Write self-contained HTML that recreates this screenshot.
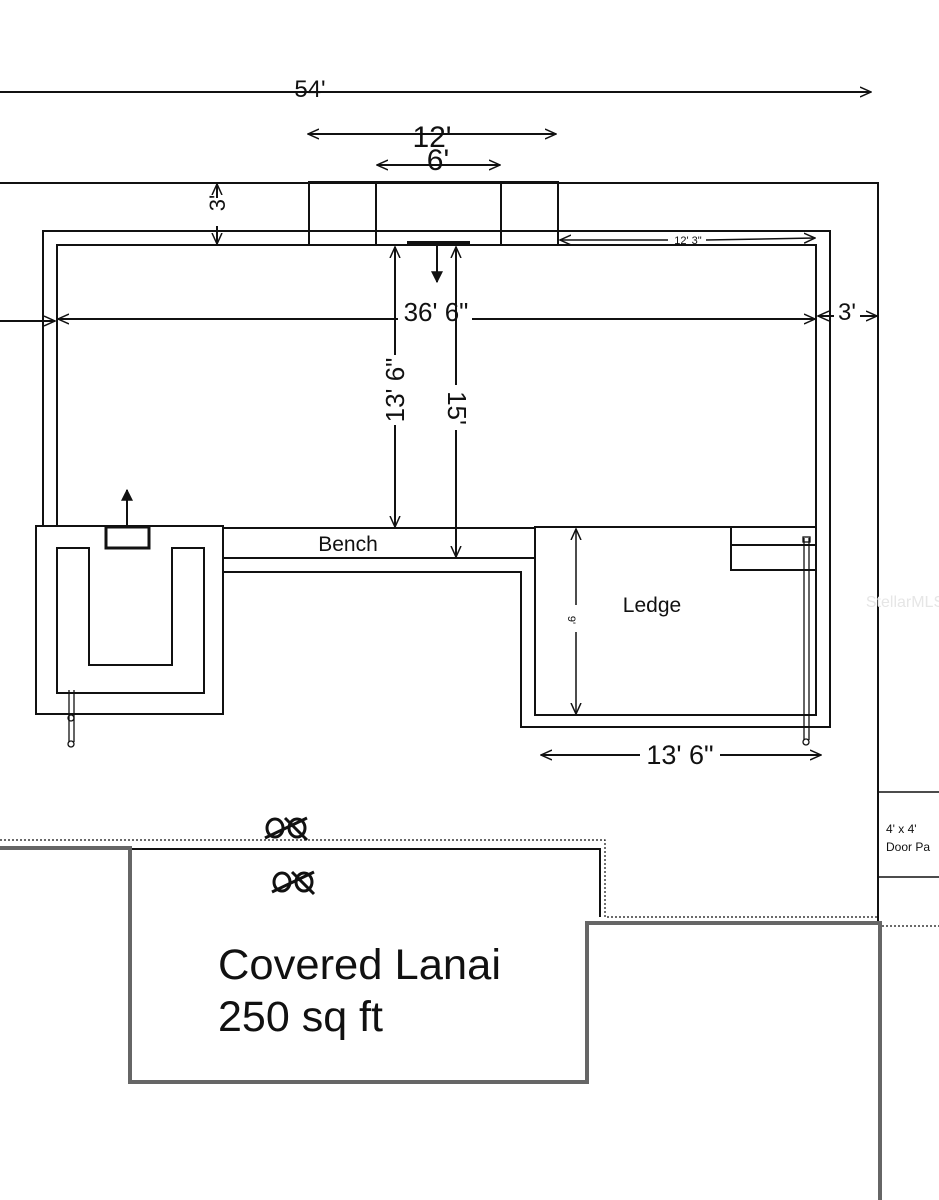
<!DOCTYPE html>
<html><head><meta charset="utf-8"><style>html,body{margin:0;padding:0;background:#fff}svg{display:block}</style></head>
<body>
<svg width="939" height="1200" viewBox="0 0 939 1200" xmlns="http://www.w3.org/2000/svg" font-family="Liberation Sans, sans-serif">
<defs>
<marker id="a" viewBox="0 0 12 12" refX="11" refY="6" markerWidth="12" markerHeight="12" orient="auto-start-reverse" markerUnits="userSpaceOnUse"><path d="M0,1 L11,6 L0,11" fill="none" stroke="#111" stroke-width="1.5"/></marker>
<marker id="f" viewBox="0 0 10 10" refX="9" refY="5" markerWidth="12" markerHeight="12" orient="auto" markerUnits="userSpaceOnUse"><path d="M0,0 L10,5 L0,10z" fill="#111"/></marker>
</defs>
<g stroke="#111" stroke-width="2" fill="none">
<line x1="0" y1="92" x2="871" y2="92" marker-end="url(#a)"/>
<line x1="308" y1="134" x2="556" y2="134" marker-start="url(#a)" marker-end="url(#a)"/>
<line x1="377" y1="165" x2="500" y2="165" marker-start="url(#a)" marker-end="url(#a)"/>
<polyline points="0,183 878,183 878,923"/>
<rect x="309" y="182" width="249" height="63"/>
<line x1="376" y1="182" x2="376" y2="245"/>
<line x1="501" y1="182" x2="501" y2="245"/>
<polyline points="43,525 43,231 830,231 830,727 521,727 521,572 223,572"/>
<polyline points="57,525 57,245 816,245 816,715"/>
<rect x="36" y="526" width="187" height="188"/>
<polyline points="223,528 535,528"/>
<line x1="223" y1="558" x2="535" y2="558"/>
<path d="M57,548 H89 V665 H172 V548 H204 V693 H57 Z"/>
<rect x="106" y="527" width="43" height="21" stroke-width="3"/>
<line x1="127" y1="527" x2="127" y2="490" marker-end="url(#f)"/>
<rect x="535" y="527" width="281" height="188"/>
<rect x="731" y="527" width="85" height="43"/>
<line x1="731" y1="545" x2="816" y2="545"/>
<line x1="407" y1="243" x2="470" y2="243" stroke-width="4"/>
<line x1="437" y1="243" x2="437" y2="282" marker-end="url(#f)"/>
<line x1="0" y1="321" x2="55" y2="321" marker-end="url(#a)"/>
<line x1="58" y1="319" x2="398" y2="319" marker-start="url(#a)"/>
<line x1="472" y1="319" x2="815" y2="319" marker-end="url(#a)"/>
<line x1="818" y1="316" x2="834" y2="316" marker-start="url(#a)"/>
<line x1="860" y1="316" x2="877" y2="316" marker-end="url(#a)"/>
<line x1="395" y1="247" x2="395" y2="355" marker-start="url(#a)"/>
<line x1="395" y1="425" x2="395" y2="527" marker-end="url(#a)"/>
<line x1="456" y1="247" x2="456" y2="385" marker-start="url(#a)"/>
<line x1="456" y1="430" x2="456" y2="557" marker-end="url(#a)"/>
<line x1="217" y1="184" x2="217" y2="198" marker-start="url(#a)"/>
<line x1="217" y1="226" x2="217" y2="244" marker-end="url(#a)"/>
<line x1="560" y1="240" x2="668" y2="240" marker-start="url(#a)" stroke-width="1.5"/>
<line x1="706" y1="240" x2="815" y2="238" marker-end="url(#a)" stroke-width="1.5"/>
<line x1="576" y1="529" x2="576" y2="605" marker-start="url(#a)" stroke-width="1.5"/>
<line x1="576" y1="632" x2="576" y2="714" marker-end="url(#a)" stroke-width="1.5"/>
<line x1="541" y1="755" x2="640" y2="755" marker-start="url(#a)"/>
<line x1="720" y1="755" x2="821" y2="755" marker-end="url(#a)"/>
<g stroke-width="1.3">
<line x1="804" y1="538" x2="804" y2="740"/><line x1="809" y1="538" x2="809" y2="740"/>
<rect x="803" y="537" width="7" height="5"/><circle cx="806" cy="742" r="3"/>
<line x1="69" y1="690" x2="69" y2="742"/><line x1="74" y1="690" x2="74" y2="742"/>
<circle cx="71" cy="744" r="3"/><circle cx="71" cy="718" r="3"/>
</g>
<polyline points="939,792 878,792 878,877 939,877" stroke-width="1.5"/>
<polyline points="0,840 605,840 605,917 878,917" stroke-dasharray="2,2" stroke-width="1.2"/>
<line x1="878" y1="926" x2="939" y2="926" stroke-dasharray="2,2" stroke-width="1.2"/>
<polyline points="130,849 600,849 600,917" stroke-width="2"/>
<polyline points="0,848 130,848 130,1082 587,1082 587,923 880,923 880,1200" stroke="#666" stroke-width="4"/>
<g stroke-width="3"><ellipse cx="275" cy="828" rx="8" ry="9"/><ellipse cx="297" cy="828" rx="8" ry="9"/><line x1="265" y1="838" x2="307" y2="818"/><line x1="285" y1="818" x2="307" y2="840"/>
<ellipse cx="282" cy="882" rx="8" ry="9"/><ellipse cx="304" cy="882" rx="8" ry="9"/><line x1="272" y1="892" x2="314" y2="872"/><line x1="292" y1="872" x2="314" y2="894"/></g>
</g>
<g fill="#111">
<text x="310" y="97" font-size="24" text-anchor="middle">54'</text>
<text x="432" y="147" font-size="30" text-anchor="middle">12'</text>
<text x="438" y="170" font-size="30" text-anchor="middle">6'</text>
<text x="436" y="321" font-size="26" text-anchor="middle">36' 6"</text>
<text x="847" y="320" font-size="24" text-anchor="middle">3'</text>
<text transform="translate(404,390) rotate(-90)" font-size="26" text-anchor="middle">13' 6"</text>
<text transform="translate(448,408) rotate(90)" font-size="26" text-anchor="middle">15'</text>
<text transform="translate(225,203) rotate(-90)" font-size="22" text-anchor="middle">3'</text>
<text x="688" y="244" font-size="11" text-anchor="middle">12' 3"</text>
<text transform="translate(568,620) rotate(90)" font-size="11" text-anchor="middle">9'</text>
<text x="680" y="764" font-size="27" text-anchor="middle">13' 6"</text>
<text x="348" y="551" font-size="21" text-anchor="middle">Bench</text>
<text x="652" y="612" font-size="21" text-anchor="middle">Ledge</text>
<text x="886" y="833" font-size="12">4' x 4'</text>
<text x="886" y="851" font-size="12">Door Pa</text>
<text x="218" y="979" font-size="43" textLength="283" lengthAdjust="spacingAndGlyphs">Covered Lanai</text>
<text x="218" y="1031" font-size="43">250 sq ft</text>
<text x="905" y="607" font-size="16" fill="#e6e6e6" text-anchor="middle">StellarMLS</text>
</g>
</svg>
</body></html>
